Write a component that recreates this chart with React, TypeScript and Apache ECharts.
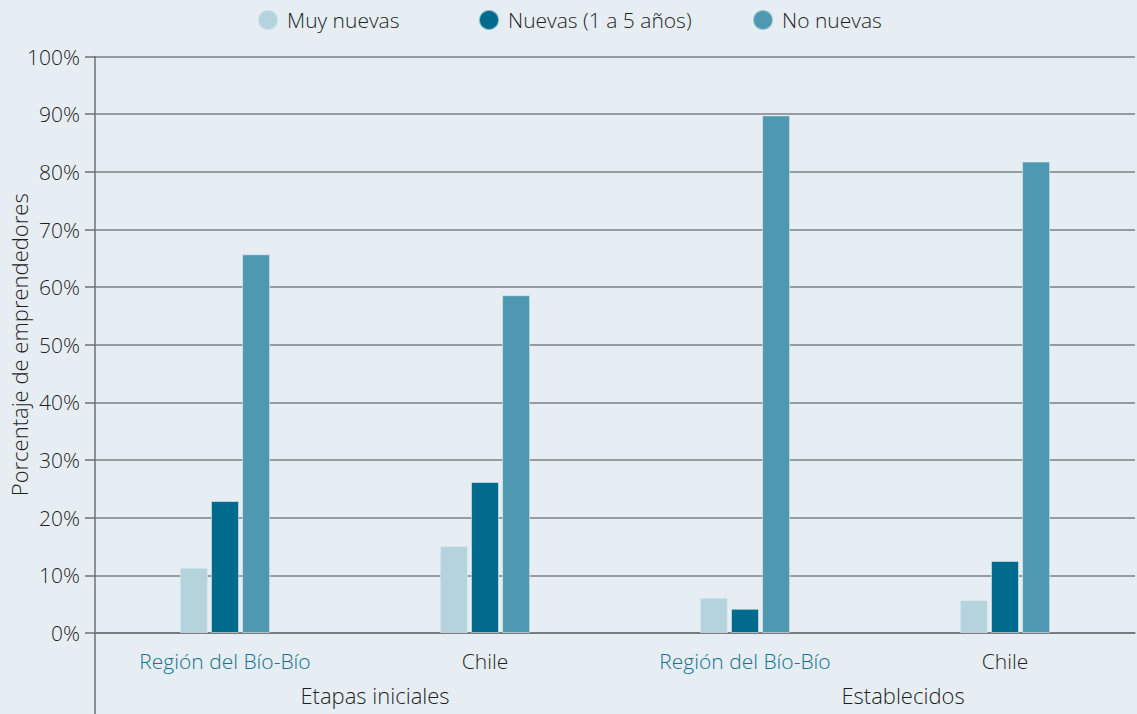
import React, { useEffect, useRef } from "react";
import * as echarts from "echarts";

const categories = ["Región del Bío-Bío", "Chile", "Región del Bío-Bío", "Chile"];
const groupLabels = ["Etapas iniciales", "Establecidos"];
const seriesNames = ["Muy nuevas", "Nuevas (1 a 5 años)", "No nuevas"];
const muyNuevas = [11.3, 15.1, 6.1, 5.7];
const nuevas = [22.9, 26.2, 4.2, 12.5];
const noNuevas = [65.7, 58.6, 89.8, 81.8];
const yTicks = [0, 10, 20, 30, 40, 50, 60, 70, 80, 90, 100];

const colors = ["#b4d3dd", "#006b8c", "#4e99b1"];
const FONT = "Open Sans";
const FW = 300;
const TXT = "#1f1f1f";
const legendLefts = [252, 473, 747];

export default function App() {
  const ref = useRef<HTMLDivElement>(null);
  useEffect(() => {
    if (!ref.current) return;
    const chart = echarts.init(ref.current, null, { renderer: "svg" });
    const values = [muyNuevas, nuevas, noNuevas];
    chart.setOption({
      animation: false,
      backgroundColor: "#e6eef4",
      textStyle: { fontFamily: FONT },
      legend: seriesNames.map((n, i) => ({
        top: 4,
        left: legendLefts[i],
        icon: "circle",
        itemWidth: 20,
        itemHeight: 20,
        textStyle: { fontFamily: FONT, fontWeight: FW, fontSize: 21, color: TXT, padding: [0, 0, 0, 4] },
        data: [n],
      })),
      grid: { left: 95, right: 2, top: 56.6, bottom: 81, containLabel: false, outerBoundsMode: "none" },
      xAxis: {
        type: "category",
        data: categories,
        axisLine: { show: true, lineStyle: { color: "#6f7272", width: 1.5 } },
        axisTick: { show: false },
        axisLabel: {
          interval: 0,
          margin: 17,
          fontFamily: FONT,
          fontSize: 21,
          formatter: (v: string) => (v === "Chile" ? "{b|" + v + "}" : "{a|" + v + "}"),
          rich: {
            a: { color: "#13728f", fontFamily: FONT, fontSize: 21, fontWeight: FW },
            b: { color: TXT, fontFamily: FONT, fontSize: 21, fontWeight: FW },
          },
        },
      },
      yAxis: {
        type: "value",
        min: 0,
        max: 100,
        interval: 10,
        name: "Porcentaje de emprendedores",
        nameLocation: "middle",
        nameGap: 65,
        nameMoveOverlap: false,
        nameTextStyle: { fontFamily: FONT, fontSize: 22, fontWeight: FW, color: TXT },
        axisLine: { show: true, lineStyle: { color: "#6f7272", width: 1.5 } },
        axisTick: { show: true, length: 10, lineStyle: { color: "#6f7272", width: 1.5 } },
        axisLabel: {
          margin: 15,
          fontFamily: FONT,
          fontWeight: FW,
          fontSize: 21,
          color: TXT,
          formatter: (v: number) => (yTicks.includes(v) ? v + "%" : ""),
        },
        splitLine: { show: true, lineStyle: { color: "#7d8283", width: 1.5 } },
      },
      series: seriesNames.map((name, i) => ({
        name,
        type: "bar",
        data: values[i],
        barWidth: 28,
        barGap: "11%",
        z: 3,
        itemStyle: { color: colors[i], borderColor: "rgba(220,235,240,0.6)", borderWidth: 1 },
      })),
      graphic: [
        {
          type: "line",
          shape: { x1: 95, y1: 633, x2: 95, y2: 714 },
          style: { stroke: "#6f7272", lineWidth: 1.5 },
        },
        {
          type: "text",
          x: 375,
          y: 695,
          style: {
            text: groupLabels[0],
            fontFamily: FONT,
            fontWeight: FW,
            fontSize: 22,
            fill: TXT,
            align: "center",
            verticalAlign: "middle",
          },
        },
        {
          type: "text",
          x: 903,
          y: 695,
          style: {
            text: groupLabels[1],
            fontFamily: FONT,
            fontWeight: FW,
            fontSize: 22,
            fill: TXT,
            align: "center",
            verticalAlign: "middle",
          },
        },
      ],
    });
    return () => chart.dispose();
  }, []);
  return (
    <div
      ref={ref}
      style={{ position: "fixed", left: 0, top: 0, width: 1137, height: 714 }}
    />
  );
}
